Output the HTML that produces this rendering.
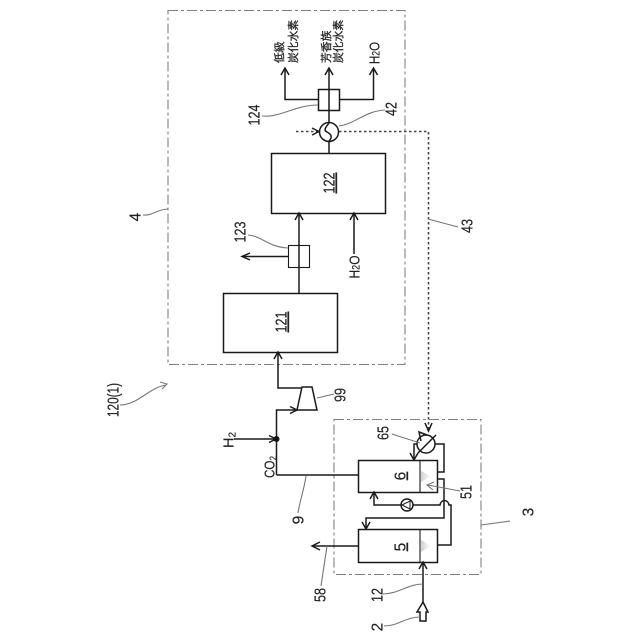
<!DOCTYPE html>
<html><head><meta charset="utf-8"><style>
html,body{margin:0;padding:0;background:#fff}
svg{display:block}
text{font-family:"Liberation Sans","Noto Sans CJK JP",sans-serif;fill:#222;text-anchor:middle;font-size:15.5px;stroke:#222;stroke-width:.15}
.j{font-size:10.8px;text-anchor:start;stroke-width:.25}
.b{fill:none;stroke:#1a1a1a;stroke-width:1.5}
.l{fill:none;stroke:#777;stroke-width:1.1}
.d{fill:none;stroke:#808080;stroke-width:1.1;stroke-dasharray:10 3 3 3}
.a{fill:none;stroke:#1a1a1a;stroke-width:1.5}
</style></head><body>
<svg width="640" height="640" viewBox="0 0 640 640" xmlns="http://www.w3.org/2000/svg">
<defs><linearGradient id="g" x1="0" x2="1"><stop offset="0" stop-color="#d0d0d0"/><stop offset="1" stop-color="#fff"/></linearGradient></defs>
<rect width="640" height="640" fill="#fff"/>
<rect class="d" x="168" y="10.5" width="237" height="354"/>
<rect class="d" x="334" y="419.5" width="147" height="155"/>

<!-- boxes -->
<rect class="b" x="271.5" y="153.5" width="114" height="60"/>
<rect class="b" x="223.5" y="293.5" width="114" height="59"/>
<rect class="b" x="318.5" y="89.5" width="21" height="21"/>
<rect class="b" x="288.5" y="245.5" width="21" height="22" style="stroke-width:1.1"/>
<polygon points="421,471 431,476 421,482" fill="url(#g)"/>
<polygon points="421,540 431,546 421,552" fill="url(#g)"/>
<rect class="b" x="358.5" y="460.5" width="79" height="32"/>
<path class="b" d="M420 460V492" style="stroke-width:1.1"/>
<rect class="b" x="358.5" y="529.5" width="79" height="33"/>
<path class="b" d="M420 529V562" style="stroke-width:1.1"/>

<!-- top outputs -->
<path class="b" d="M285 68V99.5H318M340 99.5H373.5V68M329 68V122M329 141V153"/>
<path class="a" d="M281 75L285 68L289 75M325 75L329 68L333 75M369.5 75L373.5 68L377.5 75"/>
<circle class="b" cx="329" cy="132" r="9.5" fill="#fff"/>
<path class="b" d="M329 123C326 127 323 130 327 132C331 134 333 137 329 141"/>
<path d="M296 131.5H319M339 131.5H428.5V430" fill="none" stroke="#444" stroke-width="1.6" stroke-dasharray="2.5 2.5"/>
<path class="a" d="M312 128L319 131.5L312 135M425 423L428.5 431L432 423"/>

<!-- middle -->
<path class="b" d="M299 293V213M288 256.5H243M354 254V213M278 352V388H301M276.5 475V410H297M234 439H276M276.5 475H358"/>
<path class="a" d="M295 220L299 213L303 220M350 220L354 213L358 220M250 253L242 256.5L250 260M274 359L278 352L282 359M290 406.5L297 410L290 413.5M269 435.5L276 439L269 442.5"/>
<circle cx="276.5" cy="439" r="3" fill="#111"/>
<polygon class="b" points="297,410 302,387 312,387 317,410" fill="#fff"/>

<!-- unit 3 -->
<circle class="b" cx="426" cy="444" r="9"/>
<path class="b" d="M418 453L436 435M417 444H414V460M435 444H444V472H437M437 479H444V518H366V529M374 492V505H401M413 505H440C441 499 448 499 449 505H451V545H437M312 546H358M423 562V602"/>
<path class="a" d="M410 453L414 460L418 453M362 522L366 529L370 522M370 499L374 492L378 499M320 542L312 546L320 550M419 569L423 562L427 569M421 441L419 432L427 435"/>
<circle class="b" cx="407" cy="505" r="6" fill="#fff"/>
<path class="b" d="M402 505L410 501V509Z" style="stroke-width:1"/>
<polygon class="b" points="423,602 428,612 426,612 426,621 420,621 420,612 417,612" fill="#fff"/>

<!-- leaders -->
<path class="l" d="M262 116C280 118 295 105 318 105M339 126C355 124 365 111 385 110M248 235C262 236 268 247 288 248M143 215C152 216 158 209 168 209M120 405C138 405 148 388 166 385M428 219L458 227M306 476C304 490 300 500 298 513M317 398L334 394M392 434L420 443M460 491L428 485M481 525L510 521M384 626C398 626 406 617 420 617M383 594C398 594 408 584 423 584M321 586L327 546"/>
<path class="l" d="M160 382L167 384L162 389M434 482L427 485L433 490"/>

<!-- labels -->
<g transform="translate(254,115) rotate(-90)"><text y="5.500" textLength="21" lengthAdjust="spacingAndGlyphs">124</text></g>
<g transform="translate(391,109) rotate(-90)"><text y="5.500" textLength="14" lengthAdjust="spacingAndGlyphs">42</text></g>
<g transform="translate(240,232) rotate(-90)"><text y="5.500" textLength="21" lengthAdjust="spacingAndGlyphs">123</text></g>
<g transform="translate(135,217) rotate(-90)"><text y="5.500">4</text></g>
<g transform="translate(113,400) rotate(-90)"><text y="5.500" textLength="34" lengthAdjust="spacingAndGlyphs">120(1)</text></g>
<g transform="translate(467,226) rotate(-90)"><text y="5.500" textLength="14" lengthAdjust="spacingAndGlyphs">43</text></g>
<g transform="translate(298,520) rotate(-90)"><text y="5.500">9</text></g>
<g transform="translate(340,395) rotate(-90)"><text y="5.500" textLength="14" lengthAdjust="spacingAndGlyphs">99</text></g>
<g transform="translate(383,433) rotate(-90)"><text y="5.500" textLength="14" lengthAdjust="spacingAndGlyphs">65</text></g>
<g transform="translate(466,492) rotate(-90)"><text y="5.500" textLength="14" lengthAdjust="spacingAndGlyphs">51</text></g>
<g transform="translate(528,512) rotate(-90)"><text y="5.500">3</text></g>
<g transform="translate(377,627) rotate(-90)"><text y="5.500">2</text></g>
<g transform="translate(377,595) rotate(-90)"><text y="5.500" textLength="14" lengthAdjust="spacingAndGlyphs">12</text></g>
<g transform="translate(320,595) rotate(-90)"><text y="5.500" textLength="14" lengthAdjust="spacingAndGlyphs">58</text></g>

<g transform="translate(281,322) rotate(-90)"><text y="5.500" text-decoration="underline" textLength="21" lengthAdjust="spacingAndGlyphs">121</text></g>
<g transform="translate(329,183) rotate(-90)"><text y="5.500" text-decoration="underline" textLength="21" lengthAdjust="spacingAndGlyphs">122</text></g>
<g transform="translate(400,476) rotate(-90)"><text y="5.500" text-decoration="underline">6</text></g>
<g transform="translate(400,547) rotate(-90)"><text y="5.500" text-decoration="underline">5</text></g>

<g transform="translate(269,467) rotate(-90)"><text y="5.500" style="font-size:14.500px" textLength="22" lengthAdjust="spacingAndGlyphs">CO<tspan dy="2" style="font-size:10px">2</tspan></text></g>
<g transform="translate(228,440) rotate(-90)"><text y="5.500" style="font-size:14.500px">H<tspan dy="2" style="font-size:10px">2</tspan></text></g>
<g transform="translate(354,267) rotate(-90)"><text y="5.500" style="font-size:14.500px" textLength="23" lengthAdjust="spacingAndGlyphs">H<tspan style="font-size:11px">2</tspan>O</text></g>
<g transform="translate(374,53) rotate(-90)"><text y="5.500" style="font-size:14.500px" textLength="22" lengthAdjust="spacingAndGlyphs">H<tspan style="font-size:11px">2</tspan>O</text></g>

<g transform="translate(283,63) rotate(-90)"><text class="j">低級</text></g>
<g transform="translate(297,63) rotate(-90)"><text class="j">炭化水素</text></g>
<g transform="translate(330,63) rotate(-90)"><text class="j">芳香族</text></g>
<g transform="translate(342,63) rotate(-90)"><text class="j">炭化水素</text></g>
</svg>
</body></html>
